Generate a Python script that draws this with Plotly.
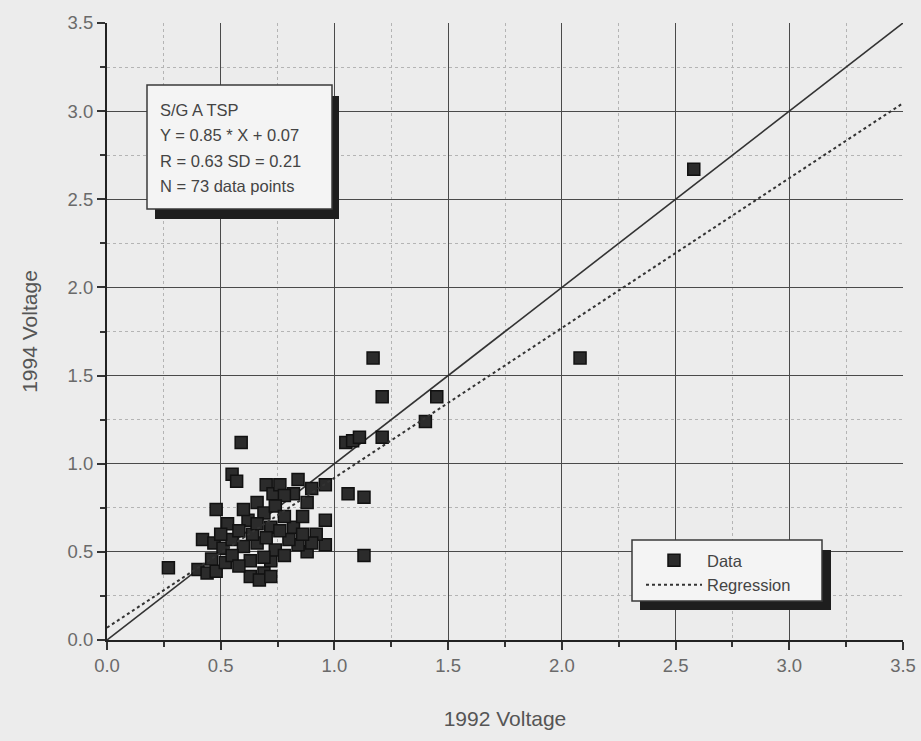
import plotly.graph_objects as go

# ---- data ----
v1992 = [2.58, 2.08, 1.17, 1.21, 1.45, 1.40, 1.21, 1.05, 1.08, 1.11,
         1.06, 1.13, 1.13, 0.59, 0.27, 0.96, 0.96, 0.96, 0.92, 0.88,
         0.84, 0.80, 0.82, 0.88, 0.84, 0.82, 0.70, 0.73, 0.86, 0.72,
         0.69, 0.74, 0.55, 0.57, 0.48, 0.53, 0.62, 0.66, 0.69, 0.72,
         0.42, 0.47, 0.51, 0.55, 0.60, 0.66, 0.63, 0.69, 0.40, 0.44,
         0.48, 0.52, 0.63, 0.67, 0.76, 0.78, 0.74, 0.90, 0.58, 0.64,
         0.70, 0.76, 0.55, 0.58, 0.78, 0.50, 0.60, 0.66, 0.46, 0.90,
         0.78, 0.72, 0.86]
v1994 = [2.67, 1.60, 1.60, 1.38, 1.38, 1.24, 1.15, 1.12, 1.13, 1.15,
         0.83, 0.81, 0.48, 1.12, 0.41, 0.88, 0.68, 0.54, 0.60, 0.50,
         0.54, 0.57, 0.64, 0.78, 0.91, 0.83, 0.88, 0.83, 0.70, 0.45,
         0.38, 0.51, 0.94, 0.90, 0.74, 0.66, 0.68, 0.78, 0.72, 0.64,
         0.57, 0.55, 0.52, 0.57, 0.53, 0.55, 0.45, 0.47, 0.40, 0.38,
         0.39, 0.44, 0.36, 0.34, 0.88, 0.82, 0.76, 0.86, 0.62, 0.60,
         0.58, 0.62, 0.48, 0.42, 0.70, 0.60, 0.74, 0.66, 0.46, 0.55,
         0.48, 0.36, 0.60]
slope = 0.85
intercept = 0.07
line_x = [0.0, 3.5]
tick_vals = [0.0, 0.5, 1.0, 1.5, 2.0, 2.5, 3.0, 3.5]
tick_text = ["0.0", "0.5", "1.0", "1.5", "2.0", "2.5", "3.0", "3.5"]
info_lines = ["S/G A TSP", "Y = 0.85 * X + 0.07", "R = 0.63 SD = 0.21", "N = 73 data points"]

W, H = 921, 741
L, R, T, B = 107, 903, 23, 640
FONT = "Liberation Sans, Arial, sans-serif"
BG = "#ececec"


def px(x):
    return (x - L) / (R - L)


def py(y):
    return (B - y) / (B - T)


fig = go.Figure()

# identity line
fig.add_trace(go.Scatter(x=line_x, y=line_x, mode="lines",
                         line=dict(color="#333333", width=1.6),
                         showlegend=False, hoverinfo="skip"))
# data
fig.add_trace(go.Scatter(x=v1992, y=v1994, mode="markers", name="Data",
                         marker=dict(symbol="square", size=12, color="#2b2b2b",
                                     line=dict(color="#111111", width=1.5))))
# regression line
fig.add_trace(go.Scatter(x=line_x, y=[slope * v + intercept for v in line_x],
                         mode="lines", name="Regression",
                         line=dict(color="#333333", width=2, dash="dot")))

shapes = []
# info box shadow + box
shapes.append(dict(type="rect", xref="paper", yref="paper", layer="above",
                   x0=px(155), x1=px(339), y0=py(219), y1=py(96),
                   fillcolor="#1e1e1e", line=dict(width=0)))
shapes.append(dict(type="rect", xref="paper", yref="paper", layer="above",
                   x0=px(147), x1=px(332), y0=py(209), y1=py(85),
                   fillcolor="#f4f4f4", line=dict(color="#3a3a3a", width=1.5)))
# legend box shadow + box
shapes.append(dict(type="rect", xref="paper", yref="paper", layer="above",
                   x0=px(640), x1=px(831), y0=py(610), y1=py(550),
                   fillcolor="#1e1e1e", line=dict(width=0)))
shapes.append(dict(type="rect", xref="paper", yref="paper", layer="above",
                   x0=px(632), x1=px(822), y0=py(601), y1=py(540),
                   fillcolor="#f4f4f4", line=dict(color="#3a3a3a", width=1.5)))

annotations = []
for i, t in enumerate(info_lines):
    annotations.append(dict(x=px(158), y=py(110 + i * 25.3), xref="paper", yref="paper",
                            text=t, showarrow=False, xanchor="left", yanchor="middle",
                            font=dict(family=FONT, size=16.5, color="#444444")))

axis_common = dict(
    range=[0, 3.5], tickvals=tick_vals, ticktext=tick_text,
    automargin=False,
    showgrid=True, gridcolor="#4a4a4a", gridwidth=1.4,
    showline=True, linecolor="#222222", linewidth=2,
    ticks="outside", ticklen=8, tickwidth=1.5, tickcolor="#333333",
    tickfont=dict(family=FONT, size=18.5, color="#6a6a6a"),
    zeroline=False,
    minor=dict(dtick=0.25, tick0=0, showgrid=True, gridcolor="#b4b4b4",
               griddash="dot", gridwidth=1, ticks="outside", ticklen=5,
               tickcolor="#333333"),
)

fig.update_layout(
    width=W, height=H,
    margin=dict(l=L, r=W - R, t=T, b=H - B),
    paper_bgcolor=BG, plot_bgcolor=BG,
    xaxis=dict(axis_common, title=dict(text="1992 Voltage", standoff=36,
                                       font=dict(family=FONT, size=21, color="#555555"))),
    yaxis=dict(axis_common, title=dict(text="1994 Voltage", standoff=24,
                                       font=dict(family=FONT, size=21, color="#555555"))),
    shapes=shapes,
    annotations=annotations,
    legend=dict(x=px(641), y=py(543), xanchor="left", yanchor="top",
                bgcolor="rgba(0,0,0,0)", borderwidth=0,
                font=dict(family=FONT, size=16.5, color="#444444"),
                tracegroupgap=4, itemwidth=56),
    showlegend=True,
)

fig.write_html("out.html")
